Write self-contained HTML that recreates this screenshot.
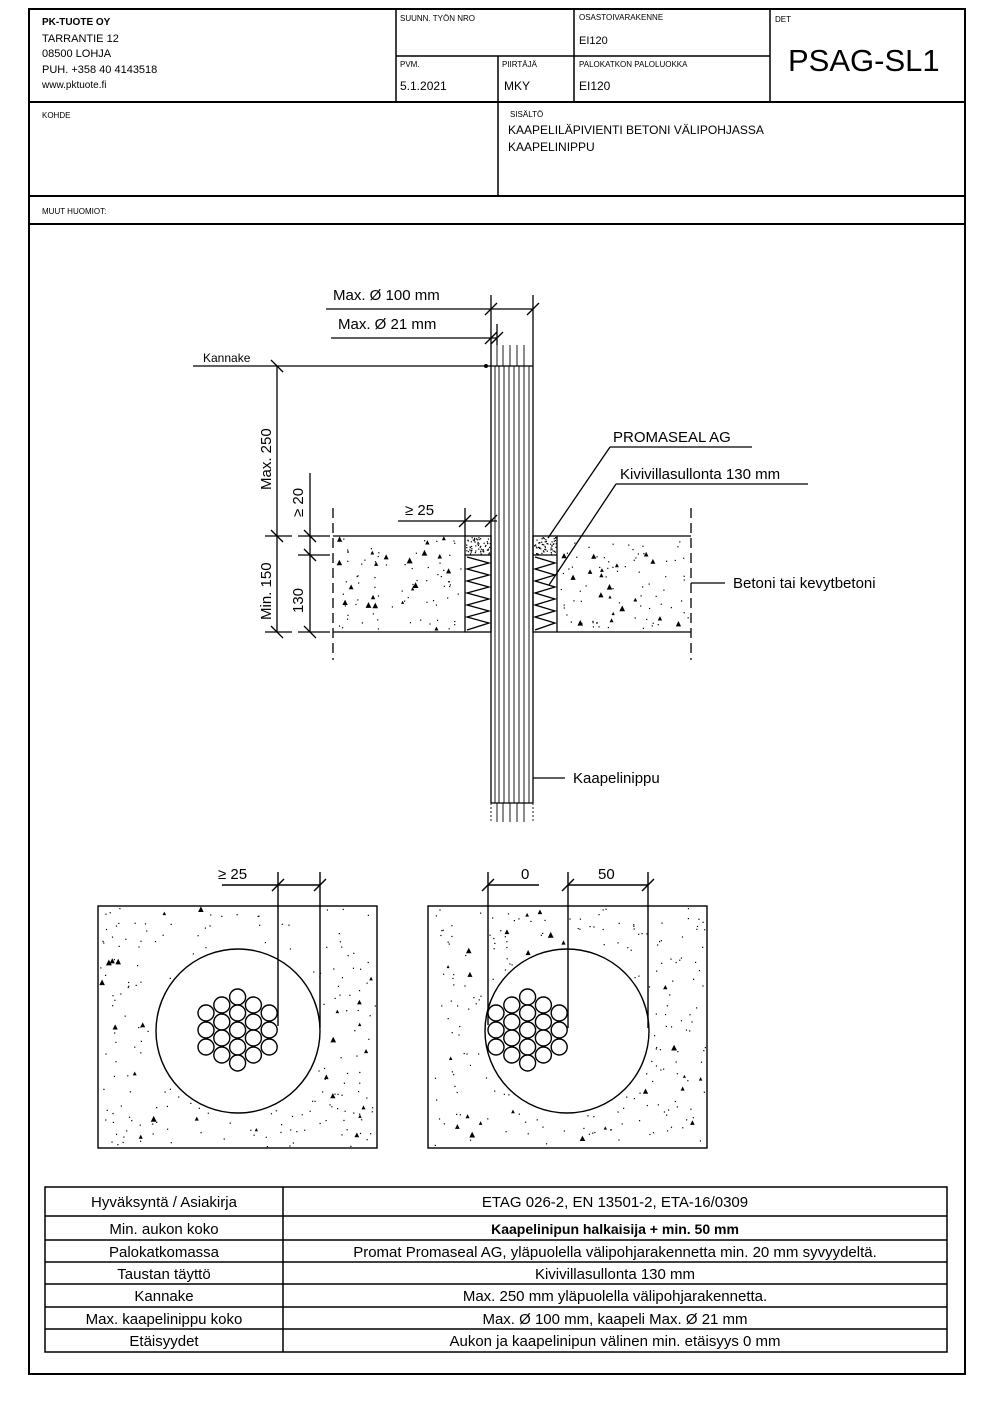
<!DOCTYPE html>
<html><head><meta charset="utf-8"><style>
html,body{margin:0;padding:0;background:#fff}
svg{display:block}
text{font-family:"Liberation Sans",sans-serif;fill:#000}
</style></head><body>
<svg id="s" width="992" height="1403" viewBox="0 0 992 1403" xmlns="http://www.w3.org/2000/svg">
<g stroke="#000" fill="none">
<rect x="29" y="9" width="936" height="1365" stroke-width="2"/>
<line x1="29" y1="102" x2="965" y2="102" stroke-width="2"/>
<line x1="29" y1="196" x2="965" y2="196" stroke-width="2"/>
<line x1="29" y1="224" x2="965" y2="224" stroke-width="2"/>
<line x1="396" y1="9" x2="396" y2="102" stroke-width="1.5"/>
<line x1="574" y1="9" x2="574" y2="102" stroke-width="1.5"/>
<line x1="770" y1="9" x2="770" y2="102" stroke-width="1.5"/>
<line x1="396" y1="56" x2="770" y2="56" stroke-width="1.5"/>
<line x1="498" y1="56" x2="498" y2="102" stroke-width="1.5"/>
<line x1="498" y1="102" x2="498" y2="196" stroke-width="1.5"/>
</g>
<g font-size="9">
<text x="42" y="25" font-weight="bold" font-size="10">PK-TUOTE OY</text>
<text x="42" y="42" font-size="11">TARRANTIE 12</text>
<text x="42" y="57" font-size="11">08500 LOHJA</text>
<text x="42" y="73" font-size="11">PUH. +358 40 4143518</text>
<text x="42" y="88" font-size="10">www.pktuote.fi</text>
<text x="400" y="21" font-size="8">SUUNN. TYÖN NRO</text>
<text x="579" y="20" font-size="8">OSASTOIVARAKENNE</text>
<text x="579" y="44" font-size="11">EI120</text>
<text x="775" y="22" font-size="8">DET</text>
<text x="788" y="71" font-size="31">PSAG-SL1</text>
<text x="400" y="67" font-size="8">PVM.</text>
<text x="400" y="90" font-size="12">5.1.2021</text>
<text x="502" y="67" font-size="8">PIIRTÄJÄ</text>
<text x="504" y="90" font-size="12">MKY</text>
<text x="579" y="67" font-size="8">PALOKATKON PALOLUOKKA</text>
<text x="579" y="90" font-size="12">EI120</text>
<text x="42" y="118" font-size="8">KOHDE</text>
<text x="510" y="117" font-size="8">SISÄLTÖ</text>
<text x="508" y="134" font-size="12">KAAPELILÄPIVIENTI BETONI VÄLIPOHJASSA</text>
<text x="508" y="151" font-size="12">KAAPELINIPPU</text>
<text x="42" y="214" font-size="8">MUUT HUOMIOT:</text>
</g>

<g id="spk"></g>
<g stroke="#000" fill="none" stroke-width="1.3">
<line x1="333" y1="536" x2="465" y2="536"/><line x1="557" y1="536" x2="691" y2="536"/>
<line x1="333" y1="632" x2="465" y2="632"/><line x1="557" y1="632" x2="691" y2="632"/>
<line x1="333" y1="508" x2="333" y2="660" stroke-dasharray="10,5"/>
<line x1="691" y1="508" x2="691" y2="660" stroke-dasharray="10,5"/>
<rect x="465" y="536" width="26" height="96"/>
<rect x="533" y="536" width="24" height="96"/>
<line x1="465" y1="555" x2="491" y2="555"/><line x1="533" y1="555" x2="557" y2="555"/>
<polyline points="467,557 489,563 467,569 489,575 467,581 489,587 467,593 489,599 467,605 489,611 467,617 489,623 467,630"/>
<polyline points="535,557 555,563 535,569 555,575 535,581 555,587 535,593 555,599 535,605 555,611 535,617 555,623 535,630"/>
<line x1="491" y1="345" x2="491" y2="803"/><line x1="533" y1="345" x2="533" y2="803"/>
<line x1="491" y1="803" x2="533" y2="803"/>
<g stroke-width="0.9">
<line x1="495" y1="366" x2="495" y2="803"/><line x1="499" y1="366" x2="499" y2="803"/>
<line x1="504" y1="366" x2="504" y2="803"/><line x1="509" y1="366" x2="509" y2="803"/>
<line x1="514" y1="366" x2="514" y2="803"/><line x1="519" y1="366" x2="519" y2="803"/>
<line x1="524" y1="366" x2="524" y2="803"/><line x1="529" y1="366" x2="529" y2="803"/>
<line x1="497" y1="345" x2="497" y2="366"/><line x1="503" y1="345" x2="503" y2="366"/>
<line x1="510" y1="345" x2="510" y2="366"/><line x1="517" y1="345" x2="517" y2="366"/>
<line x1="524" y1="345" x2="524" y2="366"/>
<line x1="491" y1="803" x2="491" y2="822" stroke-dasharray="2,2"/><line x1="533" y1="803" x2="533" y2="822" stroke-dasharray="2,2"/>
<line x1="497" y1="803" x2="497" y2="822"/><line x1="503" y1="803" x2="503" y2="822"/>
<line x1="510" y1="803" x2="510" y2="822"/><line x1="517" y1="803" x2="517" y2="822"/><line x1="524" y1="803" x2="524" y2="822"/>
</g>
<line x1="491" y1="366" x2="533" y2="366"/>
<line x1="193" y1="366" x2="491" y2="366"/>
<line x1="271" y1="360" x2="283" y2="372"/>
<line x1="326" y1="309" x2="533" y2="309"/>
<line x1="491" y1="295" x2="491" y2="345"/><line x1="533" y1="295" x2="533" y2="345"/>
<line x1="485" y1="315" x2="497" y2="303"/><line x1="527" y1="315" x2="539" y2="303"/>
<line x1="331" y1="338" x2="497" y2="338"/>
<line x1="497" y1="324" x2="497" y2="345"/>
<line x1="485" y1="344" x2="497" y2="332"/><line x1="491" y1="344" x2="503" y2="332"/>
<line x1="277" y1="366" x2="277" y2="632"/>
<line x1="265" y1="536" x2="292" y2="536"/><line x1="265" y1="632" x2="292" y2="632"/>
<line x1="271" y1="530" x2="283" y2="542"/><line x1="271" y1="626" x2="283" y2="638"/>
<line x1="310" y1="473" x2="310" y2="632"/>
<line x1="298" y1="536" x2="330" y2="536"/><line x1="298" y1="555" x2="330" y2="555"/><line x1="298" y1="632" x2="330" y2="632"/>
<line x1="304" y1="530" x2="316" y2="542"/><line x1="304" y1="549" x2="316" y2="561"/><line x1="304" y1="626" x2="316" y2="638"/>
<line x1="398" y1="521" x2="497" y2="521"/>
<line x1="465" y1="508" x2="465" y2="536"/>
<line x1="459" y1="527" x2="471" y2="515"/><line x1="485" y1="527" x2="497" y2="515"/>
<line x1="610" y1="447" x2="752" y2="447"/><line x1="610" y1="447" x2="548" y2="538"/>
<line x1="616" y1="484" x2="808" y2="484"/><line x1="616" y1="484" x2="549" y2="585"/>
<line x1="691" y1="583" x2="725" y2="583"/>
<line x1="533" y1="778" x2="565" y2="778"/>
</g>
<circle cx="486" cy="366" r="2"/>
<g font-size="15">
<text x="333" y="300">Max. Ø 100 mm</text>
<text x="338" y="329">Max. Ø 21 mm</text>
<text x="203" y="362" font-size="12">Kannake</text>
<text x="613" y="442">PROMASEAL AG</text>
<text x="620" y="479">Kivivillasullonta 130 mm</text>
<text x="733" y="588">Betoni tai kevytbetoni</text>
<text x="573" y="783">Kaapelinippu</text>
<text x="405" y="515">≥ 25</text>
<text transform="translate(271,490) rotate(-90)">Max. 250</text>
<text transform="translate(271,620) rotate(-90)">Min. 150</text>
<text transform="translate(303,613) rotate(-90)">130</text>
<text transform="translate(303,517) rotate(-90)">≥ 20</text>
<text x="218" y="879">≥ 25</text>
<text x="521" y="879">0</text>
<text x="598" y="879">50</text>
</g>

<g stroke="#000" fill="none" stroke-width="1.4">
<rect x="98" y="906" width="279" height="242"/>
<rect x="428" y="906" width="279" height="242"/>
<circle cx="238" cy="1031" r="82" fill="#fff"/>
<circle cx="567" cy="1031" r="82" fill="#fff"/>
<line x1="222" y1="885" x2="320" y2="885"/>
<line x1="278" y1="872" x2="278" y2="1026"/><line x1="320" y1="872" x2="320" y2="1028"/>
<line x1="272" y1="891" x2="284" y2="879"/><line x1="314" y1="891" x2="326" y2="879"/>
<line x1="488" y1="885" x2="539" y2="885"/>
<line x1="488" y1="872" x2="488" y2="1025"/>
<line x1="482" y1="891" x2="494" y2="879"/>
<line x1="568" y1="885" x2="648" y2="885"/>
<line x1="568" y1="872" x2="568" y2="1028"/><line x1="648" y1="872" x2="648" y2="1028"/>
<line x1="562" y1="891" x2="574" y2="879"/><line x1="642" y1="891" x2="654" y2="879"/>
<g id="cab1"></g><g id="cab2"></g>
</g>

<g stroke="#000" fill="none" stroke-width="1.5">
<rect x="45" y="1187" width="902" height="165"/>
<line x1="283" y1="1187" x2="283" y2="1352"/>
<line x1="45" y1="1216" x2="947" y2="1216"/>
<line x1="45" y1="1240" x2="947" y2="1240"/>
<line x1="45" y1="1262" x2="947" y2="1262"/>
<line x1="45" y1="1284" x2="947" y2="1284"/>
<line x1="45" y1="1307" x2="947" y2="1307"/>
<line x1="45" y1="1329" x2="947" y2="1329"/>
</g>
<g font-size="15" text-anchor="middle">
<text x="164" y="1207">Hyväksyntä / Asiakirja</text>
<text x="164" y="1234">Min. aukon koko</text>
<text x="164" y="1257">Palokatkomassa</text>
<text x="164" y="1279">Taustan täyttö</text>
<text x="164" y="1301">Kannake</text>
<text x="164" y="1324">Max. kaapelinippu koko</text>
<text x="164" y="1346">Etäisyydet</text>
<text x="615" y="1207">ETAG 026-2, EN 13501-2, ETA-16/0309</text>
<text x="615" y="1234" font-weight="bold" font-size="14">Kaapelinipun halkaisija + min. 50 mm</text>
<text x="615" y="1257">Promat Promaseal AG, yläpuolella välipohjarakennetta min. 20 mm syvyydeltä.</text>
<text x="615" y="1279">Kivivillasullonta 130 mm</text>
<text x="615" y="1301">Max. 250 mm yläpuolella välipohjarakennetta.</text>
<text x="615" y="1324">Max. Ø 100 mm, kaapeli Max. Ø 21 mm</text>
<text x="615" y="1346">Aukon ja kaapelinipun välinen min. etäisyys 0 mm</text>
</g>
</svg>
<script>
(function(){
var NS="http://www.w3.org/2000/svg";
var seed=12345;function r(){seed=(seed*16807)%2147483647;return seed/2147483647;}
var spk=document.getElementById("spk");
function dots(x,y,w,h,n,skip,pt){
 for(var i=0;i<n;i++){var px=x+r()*w,py=y+r()*h;if(skip&&skip(px,py))continue;
  var big=r()<pt;var e;
  if(big){e=document.createElementNS(NS,"polygon");var s=1.5+r()*1.5;
   e.setAttribute("points",px+","+(py-s)+" "+(px+s)+","+(py+s)+" "+(px-s)+","+(py+s));}
  else{e=document.createElementNS(NS,"rect");e.setAttribute("x",px);e.setAttribute("y",py);e.setAttribute("width",1.2);e.setAttribute("height",1.2);}
  e.setAttribute("fill","#000");spk.appendChild(e);}
}
dots(335,538,128,92,90,null,0.2);dots(559,538,130,92,90,null,0.2);
dots(466,537,24,17,60,null,0);dots(534,537,22,17,60,null,0);
dots(100,908,275,238,330,function(x,y){return (x-238)*(x-238)+(y-1031)*(y-1031)<86*86;},0.12);
dots(430,908,275,238,330,function(x,y){return (x-567)*(x-567)+(y-1031)*(y-1031)<86*86;},0.12);
function cab(id,x0){var g=document.getElementById(id);
 var cols=[[1013,1030,1047],[1005,1022,1038,1055],[997,1013,1030,1047,1063],[1005,1022,1038,1055],[1013,1030,1047]];
 for(var c=0;c<5;c++)for(var k=0;k<cols[c].length;k++){var e=document.createElementNS(NS,"circle");
  e.setAttribute("cx",x0+c*15.8);e.setAttribute("cy",cols[c][k]);e.setAttribute("r",8);e.setAttribute("fill","#fff");g.appendChild(e);}
}
cab("cab1",206);cab("cab2",496);
})();
</script>
</body></html>
